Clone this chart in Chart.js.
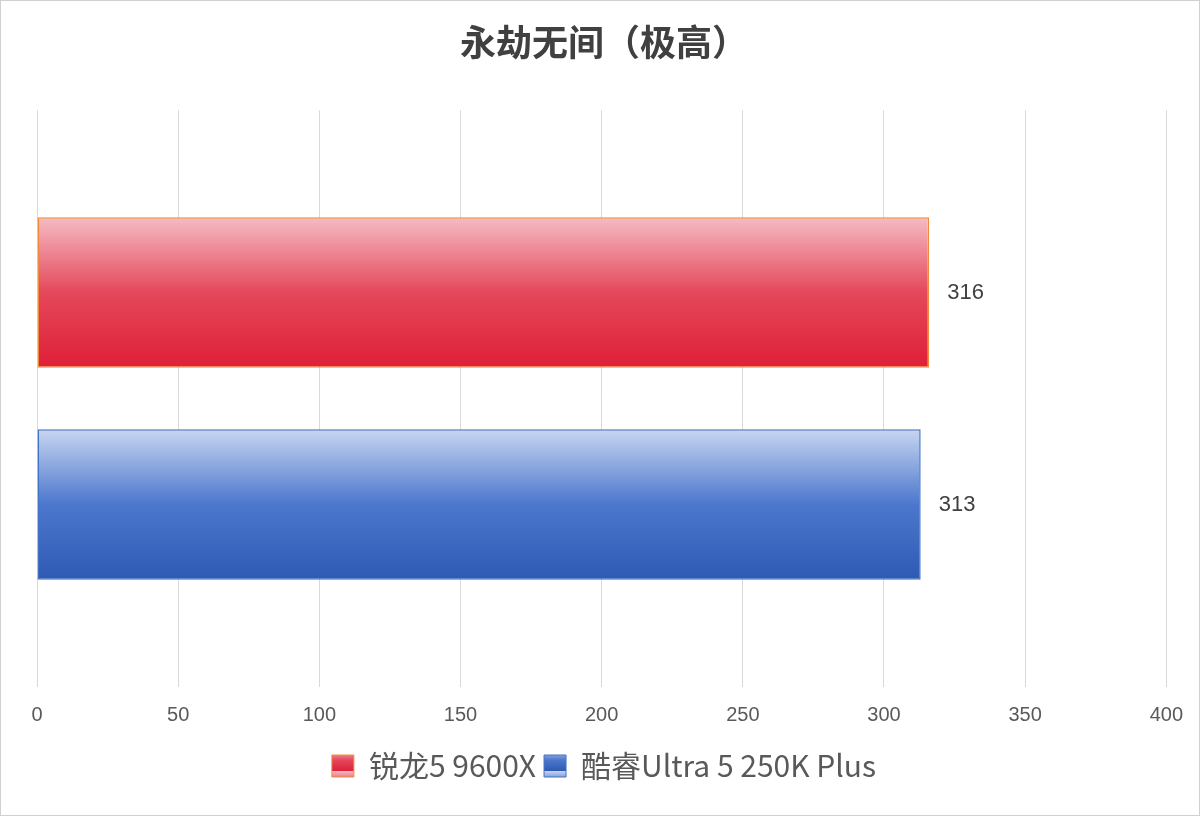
<!DOCTYPE html>
<html><head><meta charset="utf-8">
<script src="https://cdn.jsdelivr.net/npm/chart.js@4"></script>
<style>html,body{margin:0;padding:0;background:#fff}#w{width:1198px;height:814px;border:1px solid #d0d0d0;position:relative}</style>
</head><body><div id="w"><canvas id="c"></canvas></div>
<script>
const categories = ['永劫无间'];
const seriesNames = ['锐龙5 9600X', '酷睿Ultra 5 250K Plus'];
const ryzenValues = [316];
const intelValues = [313];
const xTicks = [0, 50, 100, 150, 200, 250, 300, 350, 400];

const redStops = ['#f5bcc4', '#e4485a', '#df1f38'];
const blueStops = ['#c8d5f0', '#4b77cd', '#2f5ab4'];

const gradPlugin = {
  id: 'grad',
  beforeDatasetsDraw(chart) {
    const ctx = chart.ctx;
    chart.data.datasets.forEach((ds, i) => {
      const stops = i ? blueStops : redStops;
      chart.getDatasetMeta(i).data.forEach(b => {
        const y0 = b.y - b.height/2, y1 = b.y + b.height/2;
        const g = ctx.createLinearGradient(0, y0, 0, y1);
        g.addColorStop(0, stops[0]); g.addColorStop(0.5, stops[1]); g.addColorStop(1, stops[2]);
        b.options.backgroundColor = g;
      });
    });
  }
};

const labelPlugin = {
  id: 'lbl',
  afterDatasetsDraw(chart) {
    const ctx = chart.ctx;
    ctx.save();
    ctx.font = '22px "Liberation Sans", Arial, sans-serif';
    ctx.fillStyle = '#404040';
    ctx.textBaseline = 'middle';
    chart.data.datasets.forEach((ds, i) => {
      chart.getDatasetMeta(i).data.forEach((b, j) => {
        ctx.fillText(String(ds.data[j]), b.x + 18, b.y);
      });
    });
    ctx.restore();
  }
};

function legendFill(stops) {
  const cv = document.createElement('canvas'); cv.width = 22; cv.height = 22;
  const x = cv.getContext('2d');
  const g = x.createLinearGradient(0,0,0,22);
  g.addColorStop(0, stops[0]); g.addColorStop(0.5, stops[1]); g.addColorStop(1, stops[2]);
  x.fillStyle = g; x.fillRect(0,0,22,22);
  return x.createPattern(cv, 'repeat');
}

new Chart(document.getElementById('c'), {
  type: 'bar',
  data: {
    labels: categories,
    datasets: [
      { label: seriesNames[0], data: ryzenValues, backgroundColor: redStops[1], borderColor: '#f08a3c', borderWidth: 1.5, borderSkipped: false },
      { label: seriesNames[1], data: intelValues, backgroundColor: blueStops[1], borderColor: '#4472c4', borderWidth: 1.5, borderSkipped: false }
    ]
  },
  options: {
    indexAxis: 'y',
    responsive: true, maintainAspectRatio: false, animation: false,
    categoryPercentage: 0.735, barPercentage: 0.71,
    layout: { padding: { left: 28, right: 20, top: 0, bottom: 24 } },
    plugins: {
      title: { display: true, text: '永劫无间（极高）', color: '#404040', font: { size: 36, weight: 'bold', family: '"Noto Sans CJK SC", sans-serif' }, padding: { top: 20, bottom: 46 } },
      legend: { position: 'bottom', labels: { color: '#595959', font: { size: 30, family: '"Noto Sans CJK SC", "Liberation Sans", sans-serif' }, boxWidth: 22, boxHeight: 22, padding: 8,
        generateLabels: ch => ch.data.datasets.map((d, i) => ({ text: d.label, fillStyle: legendFill(i ? blueStops : redStops), strokeStyle: i ? '#4472c4' : '#f08a3c', lineWidth: 1, datasetIndex: i, fontColor: '#595959' })) } },
      tooltip: { enabled: false }
    },
    scales: {
      x: { min: 0, max: 400, afterBuildTicks: a => { a.ticks = xTicks.map(v => ({ value: v })); },
        grid: { color: '#d9d9d9', drawTicks: false }, border: { display: false },
        ticks: { color: '#595959', padding: 16, font: { size: 20, family: '"Liberation Sans", Arial, sans-serif' } } },
      y: { grid: { display: false }, border: { display: false }, ticks: { display: false } }
    }
  },
  plugins: [gradPlugin, labelPlugin]
});
</script></body></html>
